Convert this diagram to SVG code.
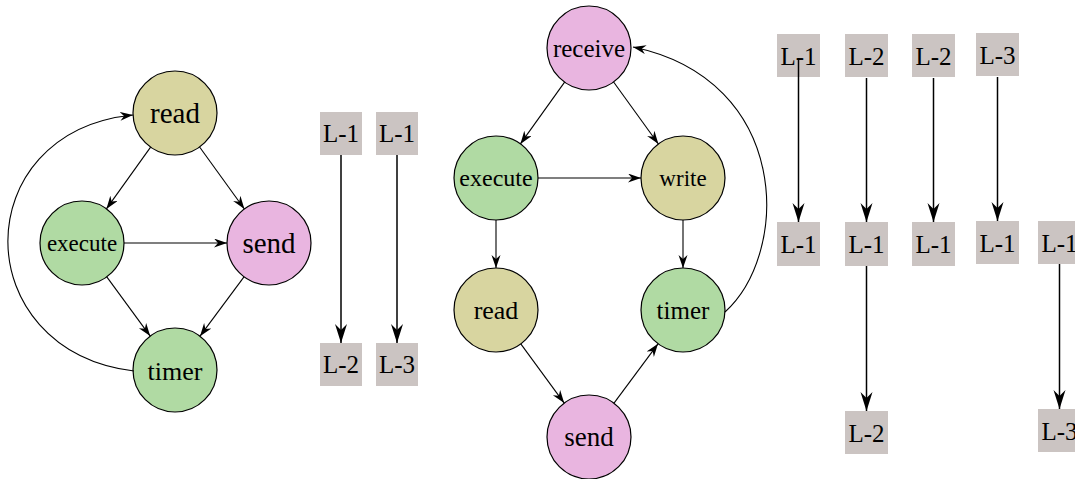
<svg xmlns="http://www.w3.org/2000/svg" width="1075" height="479" viewBox="0 0 1075 479">
<style>
  .c { stroke: #000; stroke-width: 1.2; }
  .y { fill: #d8d5a0; }
  .g { fill: #b0daa3; }
  .p { fill: #e9b5e0; }
  .b { fill: #cbc4c2; }
  text { font-family: "Liberation Serif", "Times New Roman", serif; fill: #000; text-anchor: middle; }
  .e { stroke: #000; stroke-width: 1.1; fill: none; marker-end: url(#a); }
  .E { stroke: #000; stroke-width: 1.5; fill: none; marker-end: url(#A); }
</style>
<defs>
  <marker id="a" markerUnits="userSpaceOnUse" markerWidth="14" markerHeight="11" refX="13" refY="4.5" orient="auto">
    <path d="M0,0 L13,4.5 L0,9 L4,4.5 z" fill="#000"/>
  </marker>
  <marker id="A" markerUnits="userSpaceOnUse" markerWidth="20" markerHeight="13" refX="19" refY="6" orient="auto">
    <path d="M0,0 L19,6 L0,12 L6,6 z" fill="#000"/>
  </marker>
</defs>

<!-- left graph nodes -->
<g id="l-read"><circle class="c y" cx="175" cy="113" r="42"/><text x="175" y="123" font-size="29">read</text></g>
<g id="l-execute"><circle class="c g" cx="82" cy="243" r="42"/><text x="82" y="251" font-size="23">execute</text></g>
<g id="l-send"><circle class="c p" cx="269" cy="243" r="42"/><text x="269" y="253" font-size="29">send</text></g>
<g id="l-timer"><circle class="c g" cx="175" cy="370" r="42"/><text x="175" y="380" font-size="26">timer</text></g>

<!-- middle column boxes -->
<g id="m-l1a"><rect class="b" x="320" y="112" width="42" height="43"/><text x="341" y="142" font-size="25">L-1</text></g>
<g id="m-l1b"><rect class="b" x="376" y="112" width="42" height="43"/><text x="397" y="142" font-size="25">L-1</text></g>
<g id="m-l2"><rect class="b" x="320" y="343" width="42" height="43"/><text x="341" y="373" font-size="25">L-2</text></g>
<g id="m-l3"><rect class="b" x="376" y="343" width="42" height="43"/><text x="397" y="373" font-size="25">L-3</text></g>

<!-- middle graph nodes -->
<g id="r-receive"><circle class="c p" cx="589" cy="48" r="42"/><text x="589" y="57" font-size="25">receive</text></g>
<g id="r-execute"><circle class="c g" cx="496" cy="178" r="42"/><text x="496" y="186" font-size="24">execute</text></g>
<g id="r-write"><circle class="c y" cx="683" cy="178" r="42"/><text x="683" y="186" font-size="23">write</text></g>
<g id="r-read"><circle class="c y" cx="496" cy="310" r="42"/><text x="496" y="319" font-size="26">read</text></g>
<g id="r-timer"><circle class="c g" cx="683" cy="310" r="42"/><text x="683" y="319" font-size="25">timer</text></g>
<g id="r-send"><circle class="c p" cx="589" cy="437" r="42"/><text x="589" y="446" font-size="27">send</text></g>

<!-- right section boxes -->
<g id="b1"><rect class="b" x="777" y="34" width="43" height="43"/><text x="798.5" y="65" font-size="25">L-1</text></g>
<g id="b2"><rect class="b" x="845" y="34" width="43" height="43"/><text x="866.5" y="65" font-size="25">L-2</text></g>
<g id="b3"><rect class="b" x="912" y="34" width="43" height="43"/><text x="933.5" y="65" font-size="25">L-2</text></g>
<g id="b4"><rect class="b" x="976" y="33" width="43" height="43"/><text x="997.5" y="64" font-size="25">L-3</text></g>
<g id="b5"><rect class="b" x="777" y="222" width="43" height="44"/><text x="798.5" y="253" font-size="25">L-1</text></g>
<g id="b6"><rect class="b" x="845" y="222" width="43" height="44"/><text x="866.5" y="253" font-size="25">L-1</text></g>
<g id="b7"><rect class="b" x="912" y="222" width="43" height="44"/><text x="933.5" y="253" font-size="25">L-1</text></g>
<g id="b8"><rect class="b" x="976" y="221" width="43" height="43"/><text x="997.5" y="252" font-size="25">L-1</text></g>
<g id="b9"><rect class="b" x="1038" y="221" width="43" height="43"/><text x="1059.5" y="252" font-size="25">L-1</text></g>
<g id="b10"><rect class="b" x="845" y="411" width="43" height="43"/><text x="866.5" y="442" font-size="25">L-2</text></g>
<g id="b11"><rect class="b" x="1038" y="409" width="43" height="43"/><text x="1059.5" y="440" font-size="25">L-3</text></g>

<g id="connectors">
  <!-- left graph -->
  <line class="e" x1="150.6" y1="147.1" x2="106.4" y2="208.9"/>
  <line class="e" x1="199.6" y1="147" x2="244.4" y2="209"/>
  <line class="e" x1="124" y1="243" x2="227" y2="243"/>
  <line class="e" x1="106.8" y1="276.9" x2="150.2" y2="336.1"/>
  <line class="e" x1="244" y1="276.8" x2="200" y2="336.2"/>
  <path class="e" d="M134,371 C-34,350 -34,132 133,115"/>
  <!-- middle column -->
  <line class="E" x1="341" y1="155" x2="341" y2="343"/>
  <line class="E" x1="397" y1="155" x2="397" y2="343"/>
  <!-- middle graph -->
  <line class="e" x1="564.6" y1="82.1" x2="520.4" y2="143.9"/>
  <line class="e" x1="613.6" y1="82" x2="658.4" y2="144"/>
  <line class="e" x1="538" y1="178" x2="641" y2="178"/>
  <line class="e" x1="496" y1="220" x2="496" y2="268"/>
  <line class="e" x1="683" y1="220" x2="683" y2="268"/>
  <line class="e" x1="520.8" y1="343.9" x2="564.2" y2="403.1"/>
  <line class="e" x1="614" y1="403.2" x2="658" y2="343.8"/>
  <path class="e" d="M725,312 C791,252 791,80 633,47"/>
  <!-- right section -->
  <line class="E" x1="798.5" y1="58" x2="798.5" y2="222"/>
  <line class="E" x1="866.5" y1="78" x2="866.5" y2="222"/>
  <line class="E" x1="933.5" y1="78" x2="933.5" y2="222"/>
  <line class="E" x1="997.5" y1="77" x2="997.5" y2="221"/>
  <line class="E" x1="866.5" y1="266" x2="866.5" y2="411"/>
  <line class="E" x1="1059.5" y1="264" x2="1059.5" y2="409"/>
</g>
</svg>
